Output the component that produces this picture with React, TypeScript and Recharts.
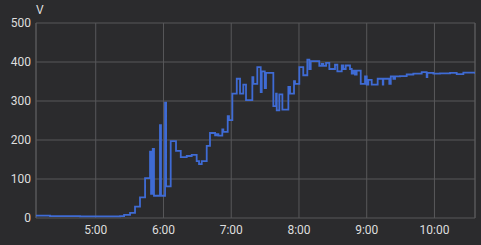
import React from "react";
import { LineChart, Line, XAxis, YAxis, CartesianGrid, ReferenceLine } from "recharts";

// time in minutes since midnight
const times: number[] = [
  247.1, 259.5, 286.1, 312.7, 321.5, 325.1, 330.4, 334.8, 339.2, 343.7,
  348.1, 349.0, 350.5, 351.6, 356.9, 357.8, 361.4, 362.3, 366.4, 371.1,
  375.3, 380.6, 385.0, 389.4, 391.5, 393.9, 398.3, 401.2, 405.7, 407.2,
  408.6, 412.1, 413.0, 416.9, 418.0, 421.0, 424.9, 427.8, 430.7, 433.1,
  438.7, 439.6, 443.1, 446.1, 447.0, 449.7, 450.8, 457.3, 459.7, 460.3,
  462.6, 465.3, 470.6, 472.1, 475.6, 476.5, 480.3, 483.8, 487.4, 489.2,
  490.4, 498.0, 500.1, 501.6, 504.0, 506.9, 511.9, 514.0, 517.9, 519.3,
  521.4, 525.2, 526.7, 528.1, 529.6, 531.1, 534.7, 538.5, 540.0, 541.4,
  544.4, 549.7, 554.2, 554.7, 560.0, 561.3, 563.6, 565.1, 569.5, 575.4,
  581.3, 588.7, 593.1, 593.7, 599.0, 604.9, 613.8, 619.7, 625.6, 631.5,
  635.9,
];
const volts: number[] = [
  6, 5, 4, 4, 5, 8, 13, 29, 53, 102,
  170, 62, 177, 57, 238, 57, 296, 81, 197, 172,
  156, 159, 162, 146, 138, 146, 185, 218, 212, 215,
  211, 227, 221, 261, 251, 319, 357, 319, 342, 302,
  361, 344, 387, 323, 376, 333, 372, 287, 319, 276,
  317, 278, 336, 319, 351, 344, 387, 366, 406, 382,
  402, 390, 395, 390, 398, 382, 393, 376, 391, 382,
  391, 382, 370, 378, 368, 378, 344, 363, 342, 354,
  342, 357, 342, 357, 344, 363, 357, 363, 364, 368,
  370, 374, 361, 372, 370, 371, 372, 369, 373, 373,
  370,
];
const xTicks: number[] = [300, 360, 420, 480, 540, 600];
const yTicks: number[] = [0, 100, 200, 300, 400, 500];
const xDomain: [number, number] = [247.1, 635.9];
const unitLabel = "V";

const data = times.map((t, i) => ({ t, v: volts[i] }));

const fmt = (m: number) => {
  const h = Math.floor(m / 60);
  const mm = Math.round(m - h * 60);
  return `${h}:${mm < 10 ? "0" + mm : mm}`;
};

const BG = "#2b2b2d";
const GRID = "#58585a";
const TEXT = "#dedede";

export default function App() {
  return (
    <div
      style={{
        position: "absolute",
        left: 0,
        top: 0,
        width: 481,
        height: 245,
        background: BG,
        fontFamily: "Roboto, sans-serif",
      }}
    >
      <LineChart
        width={481}
        height={245}
        data={data}
        margin={{ top: 23, right: 6, bottom: 0, left: 0 }}
      >
        <CartesianGrid stroke={GRID} strokeWidth={1} />
        <XAxis
          dataKey="t"
          type="number"
          domain={xDomain}
          ticks={xTicks}
          tickFormatter={fmt}
          axisLine={false}
          tickLine={false}
          tickSize={0}
          tickMargin={7}
          height={27}
          tick={{ fill: TEXT, fontSize: 12 }}
          allowDataOverflow
        />
        <YAxis
          type="number"
          domain={[0, 500]}
          ticks={yTicks}
          axisLine={false}
          tickLine={false}
          tickSize={0}
          tickMargin={5}
          width={36}
          tick={{ fill: TEXT, fontSize: 12 }}
        />
        <ReferenceLine x={xDomain[0]} stroke={GRID} />
        <ReferenceLine x={xDomain[1]} stroke={GRID} />
        <Line
          type="stepAfter"
          dataKey="v"
          stroke="#3f6bd4"
          strokeWidth={1.8}
          dot={false}
          isAnimationActive={false}
        />
        <text x={36} y={14} fill={TEXT} fontSize={12}>
          {unitLabel}
        </text>
      </LineChart>
    </div>
  );
}
